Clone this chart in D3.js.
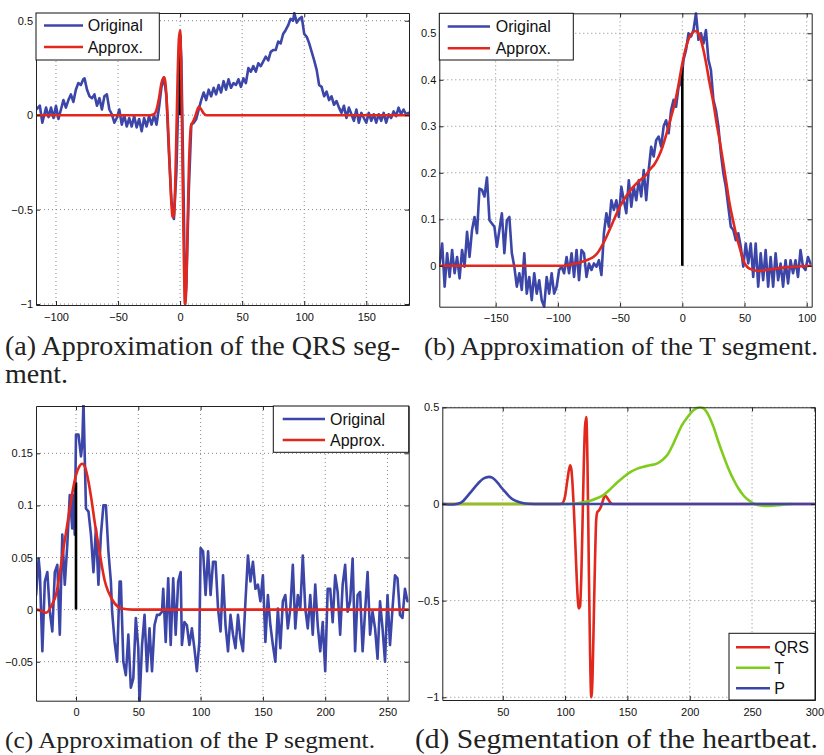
<!DOCTYPE html>
<html>
<head>
<meta charset="utf-8">
<script src="https://cdn.jsdelivr.net/npm/d3@7"></script>
<style>
  body { margin: 0; background: #fff; }
  .tick text { font-family: "Liberation Sans", Arial, sans-serif; font-size: 11px; fill: #111; }
  .legend text { font-family: "Liberation Sans", Arial, sans-serif; font-size: 16px; fill: #111; }
  text.caption { font-family: "Liberation Serif", "Times New Roman", Times, serif; fill: #222; }
</style>
</head>
<body>
<svg id="fig" width="824" height="755"></svg>
<script>
// ---------- (a) QRS segment ----------
const qrsOrigX = [-116,-113,-111,-108,-106,-104,-102,
  -100,-98,-96,-94,-92,-90,-88,-86,-84,-82,-80,-78,-77,
  -75,-73,-71,-69,-67,-65,-63,-61,-59,-57,-55,-53,-51,-49,-47,-45,-43,-41,-39,-37,-35,-33,-31,-29,-27,-25,-23,-21,-19,
  -17,-15,-13,-11,-9,-7,-5,-3,-1,
  0,1,3,4,5,7,9,11,13,15,17,19,
  21,23,25,27,29,31,33,35,37,39,41,43,45,47,49,51,53,55,57,59,61,63,65,67,69,71,73,75,77,79,81,83,85,87,89,91,
  92,
  94,96,98,100,102,104,106,108,110,112,114,116,118,120,122,124,126,128,130,132,134,136,138,140,142,144,146,148,150,152,
  154,156,158,160,162,164,166,168,170,172,174,176,178,180,182,184];
const qrsOrigY = [0.03,0.05,-0.04,0.04,-0.01,0.04,-0.015,
  0.05,-0.02,0.03,0.08,0.04,0.08,0.11,0.07,0.135,0.17,0.16,0.19,0.195,
  0.135,0.10,0.09,0.11,0.05,0.09,0.03,0.10,0.11,0.03,0.005,-0.04,-0.015,0.03,-0.05,0.0,-0.06,-0.015,-0.06,-0.005,-0.065,-0.02,-0.085,-0.015,-0.06,-0.005,-0.05,0.0,-0.05,
  0.04,0.15,0.2,0.1,-0.2,-0.45,-0.55,-0.3,0.2,
  0.42,0.3,-0.5,-1.0,-0.9,-0.4,-0.05,-0.04,-0.02,0.03,0.08,0.12,
  0.08,0.135,0.10,0.145,0.11,0.16,0.12,0.18,0.135,0.19,0.145,0.17,0.16,0.19,0.15,0.195,0.17,0.25,0.23,0.26,0.23,0.275,0.26,0.285,0.31,0.29,0.335,0.345,0.345,0.39,0.38,0.43,0.45,0.475,0.51,0.50,
  0.54,
  0.49,0.51,0.52,0.43,0.415,0.38,0.335,0.29,0.24,0.16,0.15,0.10,0.125,0.08,0.10,0.055,0.075,0.04,0.012,0.05,-0.015,0.04,0.005,-0.03,0.03,-0.04,0.012,-0.015,-0.04,0.012,
  -0.03,0.005,-0.04,0.005,-0.03,0.012,-0.04,0.005,-0.015,0.02,-0.005,0.04,0.005,0.03,0.005,0.012];
const qrsApproxX = [-116,-24,-21,-19,-17,-15,-13,-12,-11,-10,-9,-8,-7,-6,-5,-4,-3,-2,-1,0,1,2,3,4,5,6,7,8,9,10,12,14,15,17,19,21,184];
const qrsApproxY = [0,0,0.005,0.03,0.09,0.17,0.2,0.18,0.1,-0.02,-0.17,-0.33,-0.47,-0.54,-0.53,-0.38,-0.1,0.2,0.4,0.45,0.2,-0.3,-0.75,-1.0,-0.9,-0.6,-0.3,-0.12,-0.05,-0.04,-0.01,0.03,0.045,0.03,0.01,0,0];
const qrsMarker = 0.425;

// ---------- (b) T segment ----------
const tOrigX = d3.range(-195, 104, 2);
const tOrigY = [0.005,0.048,-0.045,0.027,-0.024,0.034,-0.016,0.019,-0.027,0.034,
  -0.002,0.073,0.019,0.077,0.105,0.07,0.166,0.163,0.149,0.19,
  0.098,0.091,0.084,0.041,0.077,0.113,0.027,0.098,0.105,0.027,
  -0.002,-0.045,-0.016,-0.052,0.027,-0.06,-0.024,-0.074,-0.016,-0.06,
  -0.031,-0.074,-0.088,-0.024,-0.06,-0.016,-0.06,-0.045,-0.009,-0.002,
  -0.016,0.019,-0.016,0.027,-0.024,0.034,-0.031,0.034,0.027,-0.024,
  0.005,-0.009,0.005,-0.002,0.012,-0.02,0.07,0.113,0.084,0.141,
  0.12,0.141,0.105,0.17,0.141,0.113,0.184,0.127,0.17,0.141,
  0.184,0.149,0.206,0.141,0.206,0.256,0.235,0.27,0.278,0.256,
  0.3,0.313,0.285,0.335,0.357,0.342,0.385,0.392,0.443,0.464,
  0.5,0.493,0.507,0.543,0.486,0.5,0.478,0.507,0.443,0.421,
  0.357,0.335,0.3,0.242,0.199,0.17,0.127,0.084,0.077,0.055,
  0.07,0.041,-0.002,0.048,0.005,0.048,-0.024,0.048,-0.045,0.027,
  -0.031,0.034,-0.045,0.019,-0.045,0.027,-0.031,0.005,-0.045,0.012,
  -0.038,0.012,-0.016,0.012,-0.024,0.034,-0.002,-0.009,0.019,0.005];
const tApproxX = [-195,-95,-90,-85,-80,-75,-71.5,-68,-65,-61,-58,-54,-50,-45,-40,-34,-30,-26,-22,-19,-16,-12.6,-9,-6,-3,0,3,6,8.5,10.7,13,17,19.5,22,25,27.6,30,33,35.5,38,41,43.7,46,49,54,61,70,81,90,104];
const tApproxY = [0,0,0.003,0.005,0.009,0.014,0.019,0.028,0.041,0.062,0.08,0.105,0.128,0.15,0.168,0.184,0.193,0.207,0.22,0.235,0.255,0.285,0.32,0.35,0.39,0.435,0.47,0.493,0.502,0.505,0.5,0.464,0.43,0.392,0.35,0.306,0.27,0.22,0.177,0.134,0.095,0.062,0.04,0.012,-0.006,-0.011,-0.008,-0.004,-0.002,0];
const tMarker = 0.428;

// ---------- (c) P segment ----------
const pOrigX = [-32,-30,-29,-27,-25,-23,-21,-19,-17,-15,-13,-11,-9,-7,-5,-3,-2,-1,0,2,
  4,5,6,8,10,12,14,16,18,20,22,24,26,28,29,31,33,35,36,38,
  40,42,44,46,48,50,51,53,55,57,59,61,63,65,67,69,70,72,74,76,
  78,80,82,84,85,87,89,91,93,95,97,99].concat(d3.range(100, 267, 2));
const pOrigY = [0.014,0.049,0.036,-0.04,0.027,0.036,-0.002,-0.021,0.036,0.043,
  -0.024,0.072,0.024,0.062,0.11,0.078,0.11,0.072,0.168,0.168,
  0.147,0.158,0.2,0.097,0.094,0.072,0.036,0.078,0.024,0.072,
  0.1,0.1,0.056,0.027,-0.002,-0.031,-0.05,0.027,0.027,-0.05,
  -0.063,-0.024,-0.075,-0.066,-0.008,-0.037,-0.09,-0.034,-0.005,-0.059,
  -0.018,-0.059,-0.015,-0.005,-0.005,-0.002,0.02,-0.031,0.03,-0.034,
  0.03,-0.024,0.027,0.036,-0.034,-0.012,-0.015,-0.034,-0.018,-0.037,
  -0.059,-0.031,
  0.059,0.056,0.014,0.056,0.014,0.046,0.046,0.001,-0.021,0.033,
  -0.015,-0.04,-0.005,-0.024,-0.037,-0.005,-0.028,-0.04,0.008,0.052,
  0.027,0.046,0.02,0.024,0.008,0.033,-0.031,0.014,-0.015,-0.034,
  -0.05,0.001,-0.037,0.008,0.014,-0.018,0.001,0.043,-0.018,0.014,
  0.001,0.052,0.001,-0.018,0.014,-0.024,0.024,-0.015,-0.04,-0.012,
  -0.059,0.02,0.02,-0.012,0.033,0.017,-0.024,0.024,0.043,-0.002,
  0.008,0.049,-0.04,0.014,0.017,-0.04,-0.002,0.036,-0.024,-0.002,
  -0.018,-0.047,0.008,-0.018,-0.05,0.014,-0.034,0.001,0.033,0.03,
  -0.005,-0.008,0.02,0.008];
const pApproxX = [-32,-28,-24,-20,-15.5,-13,-10,-7.5,-5,-2.5,0,2.5,5,7.5,10,12.5,15,18,20.6,23,26,31,36.6,45,267];
const pApproxY = [0,-0.001,-0.003,0.003,0.017,0.035,0.059,0.078,0.097,0.115,0.129,0.137,0.14,0.136,0.123,0.105,0.084,0.062,0.043,0.028,0.017,0.006,0.001,0,0];
const pMarker = 0.122;

// ---------- (d) segmented heartbeat ----------
const segQrsX = [1,96,98,100,102,104,105,106,107,108,109,110,111,112,113,114,115,116,117,118,119,120,121,122,123,124,125,126,127,129,131,132,134,136,138,300];
const segQrsY = [0,0,0.005,0.04,0.13,0.2,0.18,0.1,-0.02,-0.17,-0.33,-0.47,-0.54,-0.53,-0.38,-0.1,0.2,0.4,0.45,0.2,-0.3,-0.75,-1.0,-0.9,-0.6,-0.3,-0.08,-0.04,-0.035,-0.01,0.03,0.045,0.03,0.01,0,0];
const segTX = [2,100,105,110,115,120,125,131,136,142,147,153,158,163,168,174,178,182,186,190,194,198,203,208,211,215,219,223,227,231,235,239,243,247,252,257,263,270,276,282];
const segTY = [0,0,0.001,0.004,0.009,0.016,0.028,0.047,0.075,0.112,0.14,0.167,0.183,0.193,0.2,0.21,0.228,0.253,0.3,0.357,0.41,0.447,0.485,0.5,0.495,0.46,0.4,0.322,0.25,0.184,0.128,0.081,0.045,0.02,0.0,-0.008,-0.01,-0.007,-0.003,0];
const segPX = [1,10,14,18.5,21,24,26.5,29,31.5,34,36.5,39,41.5,44,46.5,49,52,54.6,57,60,65,71,80,300];
const segPY = [0,-0.003,0.001,0.017,0.035,0.059,0.078,0.097,0.115,0.129,0.137,0.14,0.136,0.123,0.105,0.084,0.062,0.043,0.028,0.017,0.006,0.001,0,0];

// ---------- ticks ----------
const ticksA = { x: [-100,-50,0,50,100,150], y: [-1,-0.5,0,0.5] };
const ticksB = { x: [-150,-100,-50,0,50,100], y: [0,0.1,0.2,0.3,0.4,0.5] };
const ticksC = { x: [0,50,100,150,200,250], y: [-0.05,0,0.05,0.1,0.15] };
const ticksD = { x: [50,100,150,200,250,300], y: [-1,-0.5,0,0.5] };

const legendAB = ["Original", "Approx."];
const legendD = ["QRS", "T", "P"];
const captions = [
  "(a) Approximation of the QRS seg-",
  "ment.",
  "(b) Approximation of the T segment.",
  "(c) Approximation of the P segment.",
  "(d) Segmentation of the heartbeat."
];

// ---------- styling ----------
const BLUE = "#3c45a8", RED = "#e2271d", GREEN = "#80cc1c", BLACK = "#000";
const LW = 2.6;

const svg = d3.select("#fig");
const fmt = d => (d < 0 ? "\u2212" : "") + String(Math.abs(d));
let clipId = 0;

function panel(cfg) {
  const sx = d3.scaleLinear().domain(cfg.xd).range([cfg.l, cfg.r]);
  const sy = d3.scaleLinear().domain(cfg.yd).range([cfg.b, cfg.t]);
  const g = svg.append("g");

  // dotted grid
  const grid = g.append("g").attr("stroke", "#7a7a7a").attr("stroke-width", 0.9)
    .attr("stroke-dasharray", "1,3");
  grid.selectAll(".gx").data(cfg.ticks.x).join("line")
    .attr("x1", d => sx(d)).attr("x2", d => sx(d)).attr("y1", cfg.t).attr("y2", cfg.b);
  grid.selectAll(".gy").data(cfg.ticks.y).join("line")
    .attr("y1", d => sy(d)).attr("y2", d => sy(d)).attr("x1", cfg.l).attr("x2", cfg.r);

  // plotting area clip
  const id = "clip" + (clipId++);
  svg.append("clipPath").attr("id", id).append("rect")
    .attr("x", cfg.l).attr("y", cfg.t - 1).attr("width", cfg.r - cfg.l).attr("height", cfg.b - cfg.t + 2);
  const plot = g.append("g").attr("clip-path", `url(#${id})`);

  // axes with inward ticks on all four sides
  const tk = 4;
  g.append("g").attr("transform", `translate(0,${cfg.b})`)
    .call(d3.axisBottom(sx).tickValues(cfg.ticks.x).tickFormat(fmt).tickSizeInner(-tk).tickSizeOuter(0).tickPadding(8));
  g.append("g").attr("transform", `translate(0,${cfg.t})`)
    .call(d3.axisTop(sx).tickValues(cfg.ticks.x).tickFormat("").tickSizeInner(-tk).tickSizeOuter(0));
  g.append("g").attr("transform", `translate(${cfg.l},0)`)
    .call(d3.axisLeft(sy).tickValues(cfg.ticks.y).tickFormat(fmt).tickSizeInner(-tk).tickSizeOuter(0).tickPadding(3));
  g.append("g").attr("transform", `translate(${cfg.r},0)`)
    .call(d3.axisRight(sy).tickValues(cfg.ticks.y).tickFormat("").tickSizeInner(-tk).tickSizeOuter(0));
  g.selectAll(".domain").attr("stroke", "#222");
  g.selectAll(".tick line").attr("stroke", "#222");
  g.selectAll(".tick text").attr("fill", "#111");

  return { sx, sy, plot, g };
}

function drawLine(p, xs, ys, color, curve) {
  const line = d3.line().x(d => p.sx(d[0])).y(d => p.sy(d[1])).curve(curve || d3.curveLinear);
  p.plot.append("path").datum(d3.zip(xs, ys))
    .attr("d", line).attr("fill", "none").attr("stroke", color)
    .attr("stroke-width", LW).attr("stroke-linejoin", "round").attr("stroke-linecap", "round");
}

function drawMarker(p, y) {
  p.plot.append("line").attr("x1", p.sx(0)).attr("x2", p.sx(0))
    .attr("y1", p.sy(0)).attr("y2", p.sy(y)).attr("stroke", BLACK).attr("stroke-width", LW);
}

function legend(box, labels, colors) {
  const g = svg.append("g").attr("class", "legend");
  g.append("rect").attr("x", box.x).attr("y", box.y).attr("width", box.w).attr("height", box.h)
    .attr("fill", "#fff").attr("stroke", "#111").attr("stroke-width", 1);
  labels.forEach((lab, i) => {
    const cy = box.y0 + i * box.dy;
    g.append("line").attr("x1", box.lx0).attr("x2", box.lx1).attr("y1", cy).attr("y2", cy)
      .attr("stroke", colors[i]).attr("stroke-width", LW);
    g.append("text").attr("x", box.tx).attr("y", cy + 5.8).text(lab);
  });
}

// (a)
const pa = panel({ l: 36, r: 409, t: 13, b: 305, xd: [-116.1, 184.4], yd: [-1.005, 0.541], ticks: ticksA });
drawLine(pa, qrsOrigX, qrsOrigY, BLUE);
drawMarker(pa, qrsMarker);
drawLine(pa, qrsApproxX, qrsApproxY, RED, d3.curveMonotoneX);
legend({ x: 36, y: 13, w: 123.3, h: 47, y0: 25.5, dy: 21.5, lx0: 44, lx1: 83, tx: 87.7 }, legendAB, [BLUE, RED]);

// (b)
const pb = panel({ l: 439.3, r: 811.7, t: 13.3, b: 306.7, xd: [-195.3, 104], yd: [-0.088, 0.543], ticks: ticksB });
drawLine(pb, tOrigX, tOrigY, BLUE);
drawMarker(pb, tMarker);
drawLine(pb, tApproxX, tApproxY, RED, d3.curveMonotoneX);
legend({ x: 439.3, y: 13.3, w: 134, h: 46.7, y0: 26.5, dy: 21.7, lx0: 447.7, lx1: 490, tx: 495.7 }, legendAB, [BLUE, RED]);

// (c)
const pc = panel({ l: 36, r: 408.7, t: 406, b: 700.7, xd: [-32.1, 267], yd: [-0.0874, 0.1954], ticks: ticksC });
drawLine(pc, pOrigX, pOrigY, BLUE);
drawMarker(pc, pMarker);
drawLine(pc, pApproxX, pApproxY, RED, d3.curveMonotoneX);
legend({ x: 273.3, y: 406, w: 135.4, h: 46.3, y0: 419, dy: 21, lx0: 282.7, lx1: 325, tx: 330 }, legendAB, [BLUE, RED]);

// (d)
const pd = panel({ l: 442.3, r: 815, t: 407.3, b: 700, xd: [1.5, 300.5], yd: [-1.014, 0.5], ticks: ticksD });
drawLine(pd, segQrsX, segQrsY, RED, d3.curveMonotoneX);
drawLine(pd, segTX, segTY, GREEN, d3.curveMonotoneX);
drawLine(pd, segPX, segPY, BLUE, d3.curveMonotoneX);
legend({ x: 729, y: 633.3, w: 86, h: 66.7, y0: 647.3, dy: 20.5, lx0: 736, lx1: 770, tx: 774.3 }, legendD, [RED, GREEN, BLUE]);

// sub-figure captions: size fitted to the column, then a slight widening
const capPos = [
  { x: 5, y: 355, w: 395 },
  { x: 5, y: 383, w: null },
  { x: 424, y: 355, w: 394 },
  { x: 5, y: 748, w: 370 },
  { x: 415, y: 748, w: 403 }
];
const widen = 1.06;
let size = 21, ratio = 1;
captions.forEach((t, i) => {
  const el = svg.append("text").attr("class", "caption")
    .attr("x", capPos[i].x).attr("y", capPos[i].y)
    .style("font-size", "20px").text(t);
  const natural20 = el.node().getComputedTextLength();
  if (capPos[i].w) size = 20 * capPos[i].w / natural20 / widen;
  el.style("font-size", size.toFixed(2) + "px");
  const natural = natural20 * size / 20;
  el.attr("textLength", (natural * widen).toFixed(1)).attr("lengthAdjust", "spacingAndGlyphs");
});
</script>
</body>
</html>
